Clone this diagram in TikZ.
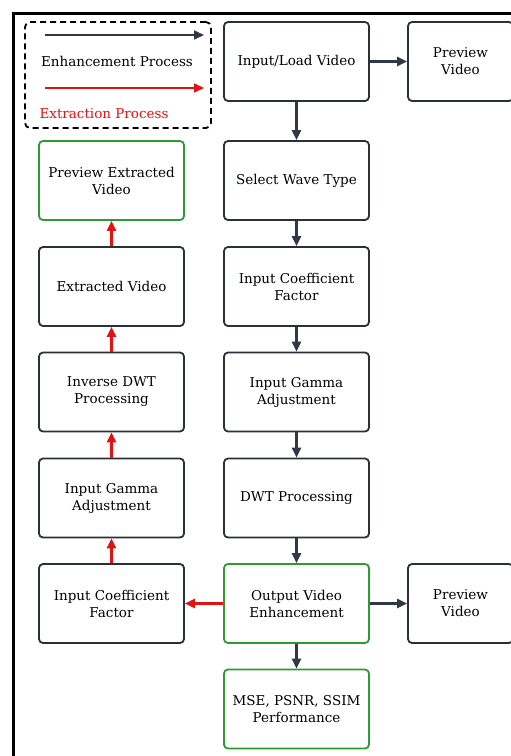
\documentclass[tikz,border=0pt]{standalone}
\usepackage{fontspec}
\setmainfont{DejaVu Serif}
\usetikzlibrary{positioning,arrows.meta}

\definecolor{boxline}{HTML}{2B3038}
\definecolor{enhline}{HTML}{2F3844}
\definecolor{extline}{HTML}{E31212}
\definecolor{okgreen}{HTML}{2E9A34}

\begin{document}
\begin{tikzpicture}[x=1pt,y=-1pt,text=black,
    node font=\fontsize{13.5}{17}\selectfont,
    stepbox/.style={rectangle, draw=boxline, line width=1.8pt, rounded corners=4pt,
                    minimum width=145pt, minimum height=79pt, align=center, inner sep=2pt},
    viewbox/.style={stepbox, minimum width=105pt},
    donebox/.style={stepbox, draw=okgreen},
    enh/.style={-{Triangle[length=10pt,width=9pt]}, draw=enhline, line width=2.2pt},
    ext/.style={-{Triangle[length=10pt,width=9pt]}, draw=extline, line width=2.2pt}]

  \clip (0,0) rectangle (511,756);
  \fill[white] (0,0) rectangle (511,756);

  % outer frame (only top and left edges show)
  \draw[line width=3.5pt] (13.5,760) -- (13.5,13.5) -- (520,13.5);

  % legend
  \node (legend) at (118,75) [rectangle, draw=black, line width=1.8pt,
        dash pattern=on 6pt off 4pt, rounded corners=5pt,
        minimum width=186pt, minimum height=106pt] {};
  \coordinate (enhA) at (45,35);
  \coordinate (enhB) at (204,35);
  \coordinate (extA) at (45,88);
  \coordinate (extB) at (204,88);
  \draw[enh, line width=1.6pt] (enhA) -- (enhB);
  \draw[ext, line width=1.6pt] (extA) -- (extB);
  \node (enhtxt) at (117,61) {Enhancement Process};
  \node (exttxt) at (104,114) [text=extline] {Extraction Process};

  % enhancement column
  \node (load)  at (296.5,61.5)  [stepbox] {Input/Load Video};
  \node (wave)  at (296.5,180.5) [stepbox] {Select Wave Type};
  \node (coef)  at (296.5,286.5) [stepbox] {Input Coefficient\\Factor};
  \node (gamma) at (296.5,392)   [stepbox] {Input Gamma\\Adjustment};
  \node (dwt)   at (296.5,498)   [stepbox] {DWT Processing};
  \node (out)   at (296.5,603.5) [donebox] {Output Video\\Enhancement};
  \node (mse)   at (296.5,709)   [donebox] {MSE, PSNR, SSIM\\Performance};

  \node (prevA) at (460.5,61.5)  [viewbox] {Preview\\Video};
  \node (prevB) at (460.5,603.5) [viewbox] {Preview\\Video};

  % extraction column
  \node (icoef)  at (111.5,603.5) [stepbox] {Input Coefficient\\Factor};
  \node (igamma) at (111.5,498)   [stepbox] {Input Gamma\\Adjustment};
  \node (idwt)   at (111.5,392)   [stepbox] {Inverse DWT\\Processing};
  \node (extr)   at (111.5,286.5) [stepbox] {Extracted Video};
  \node (prevX)  at (111.5,180.5) [donebox] {Preview Extracted\\Video};

  \draw[enh] (load) -- (prevA);
  \draw[enh] (load) -- (wave);
  \draw[enh] (wave) -- (coef);
  \draw[enh] (coef) -- (gamma);
  \draw[enh] (gamma) -- (dwt);
  \draw[enh] (dwt) -- (out);
  \draw[enh] (out) -- (prevB);
  \draw[enh] (out) -- (mse);

  \draw[ext] (out) -- (icoef);
  \draw[ext] (icoef) -- (igamma);
  \draw[ext] (igamma) -- (idwt);
  \draw[ext] (idwt) -- (extr);
  \draw[ext] (extr) -- (prevX);

\end{tikzpicture}
\end{document}
